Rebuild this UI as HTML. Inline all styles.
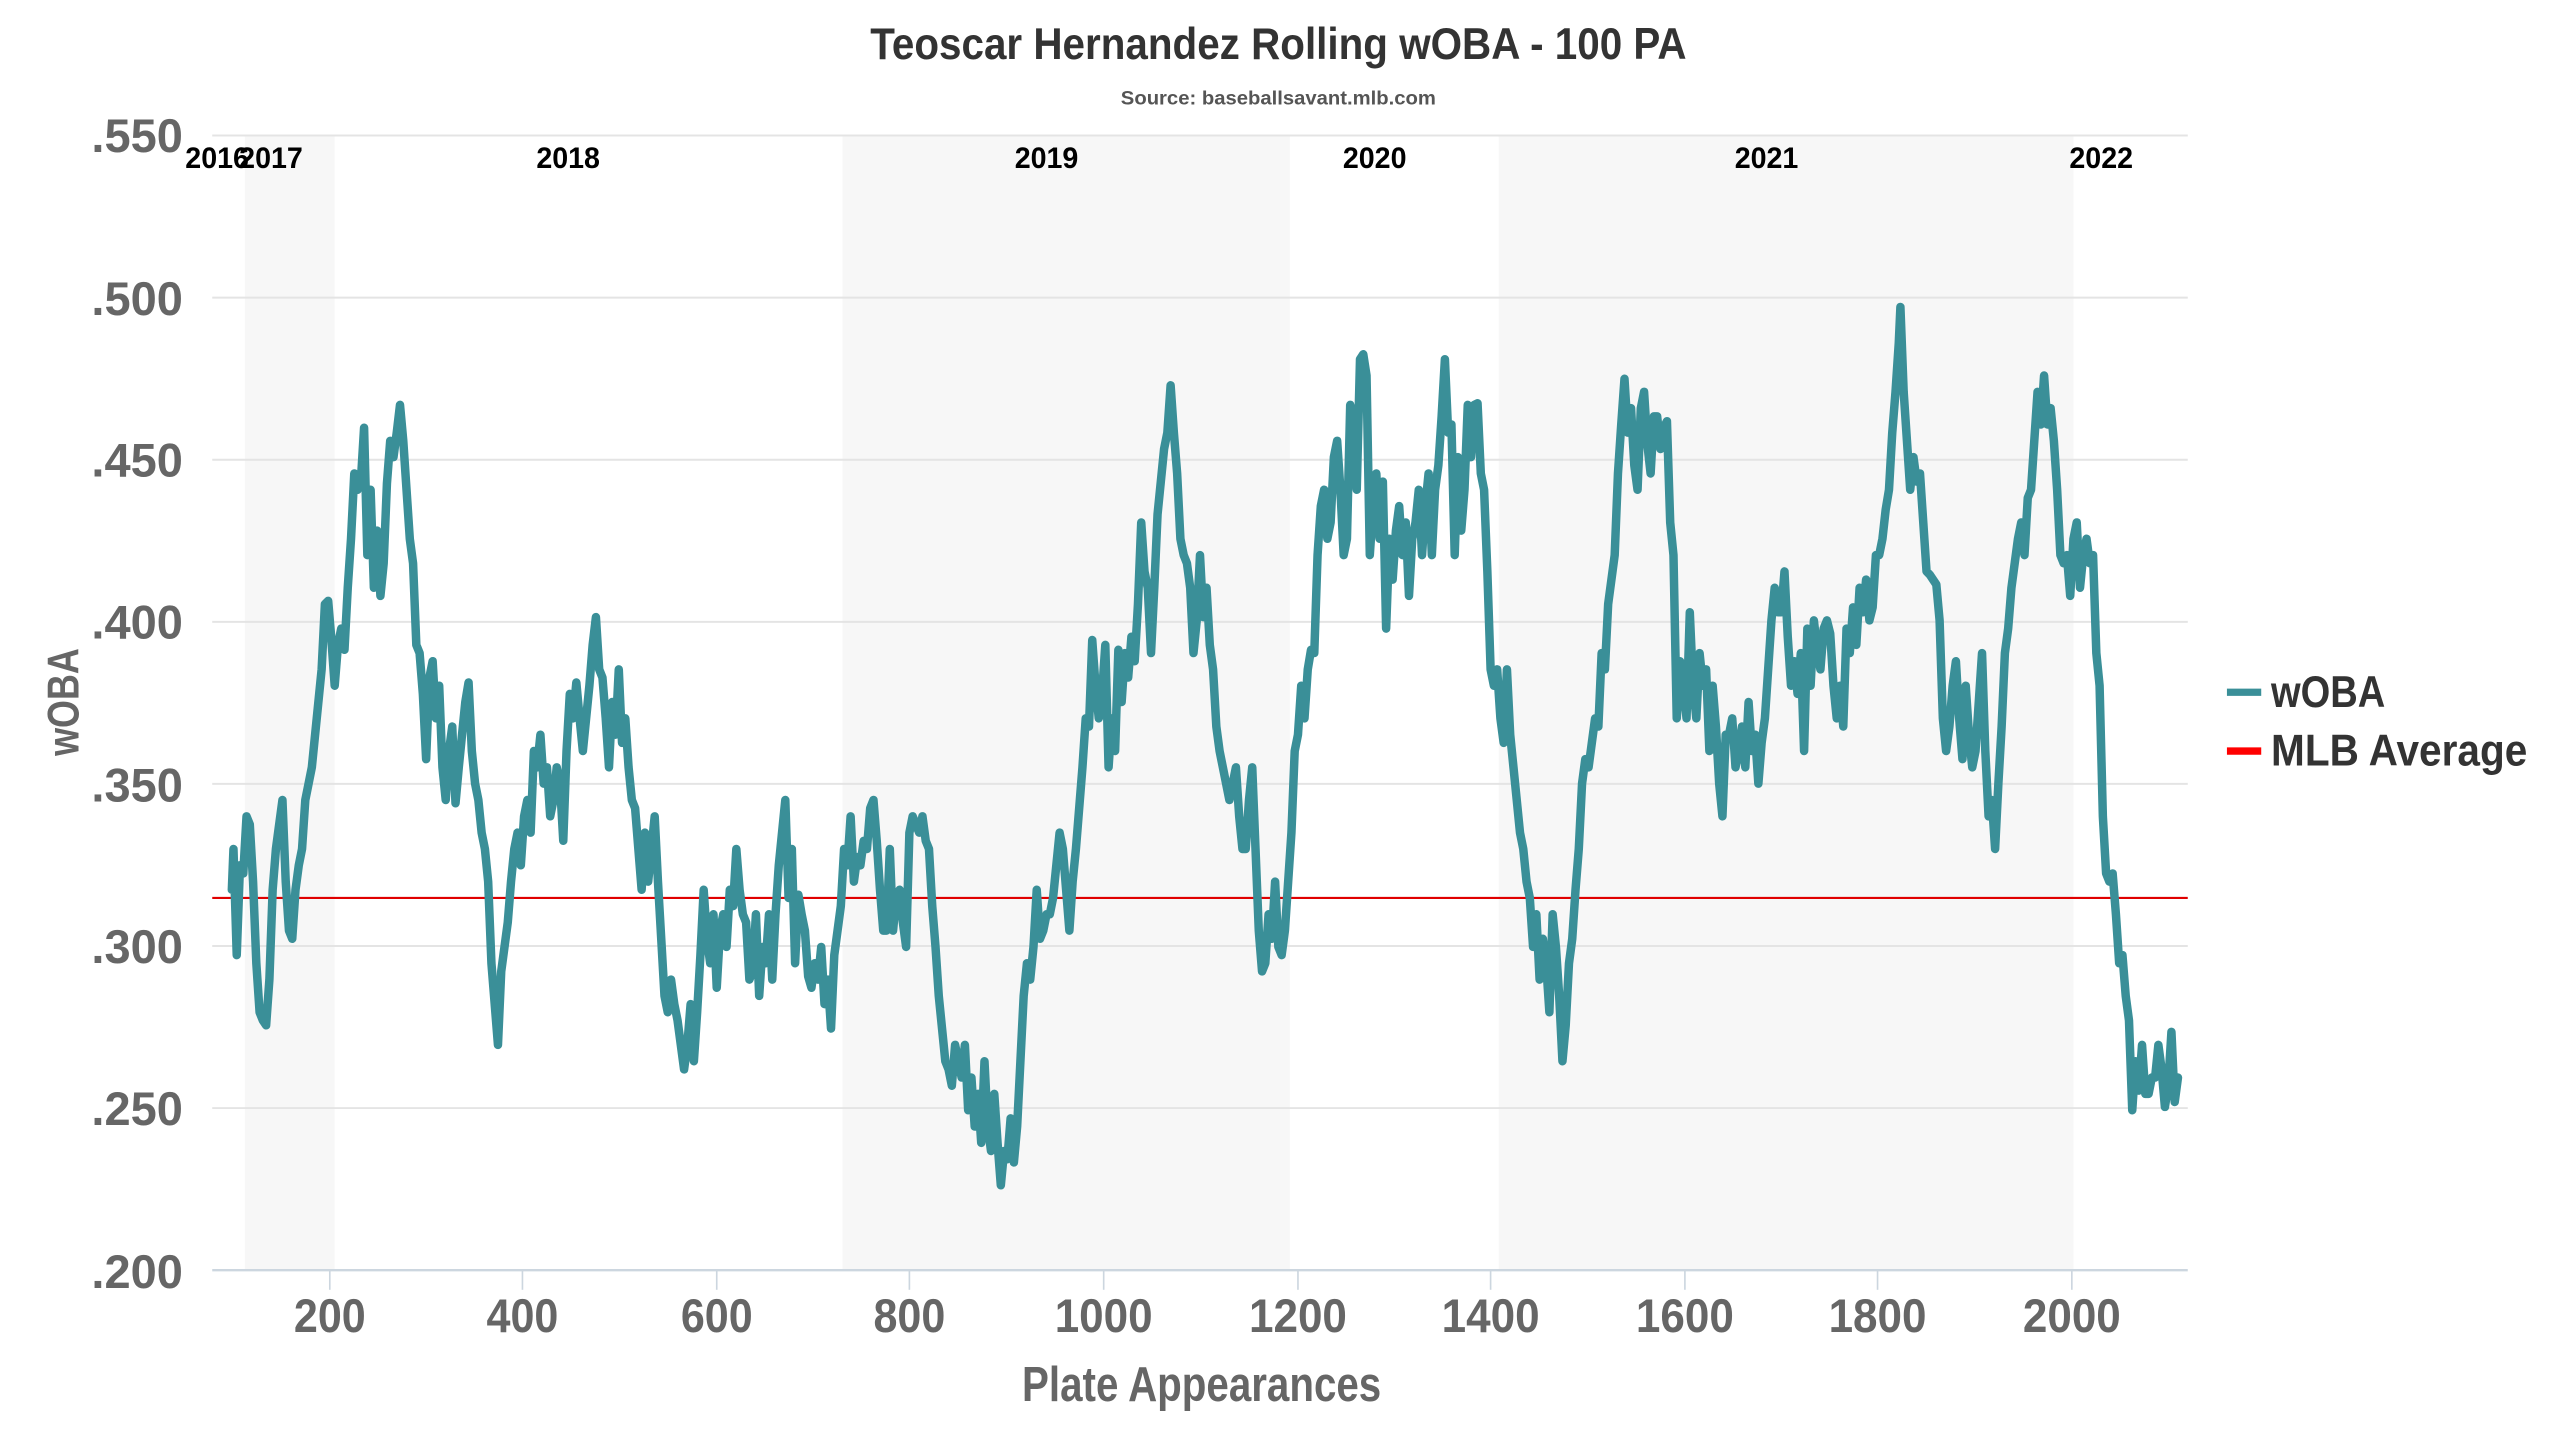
<!DOCTYPE html>
<html><head><meta charset="utf-8"><style>html,body{margin:0;padding:0;background:#fff;}svg{display:block}</style></head>
<body>
<svg width="2560" height="1440" viewBox="0 0 1568 882" xmlns="http://www.w3.org/2000/svg" font-family="'Liberation Sans', sans-serif" font-weight="bold">
<rect width="1568" height="882" fill="#fff"/>
<rect x="150" y="83" width="55" height="695" fill="#f7f7f7"/>
<rect x="516" y="83" width="274" height="695" fill="#f7f7f7"/>
<rect x="918" y="83" width="352" height="695" fill="#f7f7f7"/>
<g stroke="#e4e4e4" stroke-width="1.2">
<line x1="130" x2="1340" y1="83" y2="83"/><line x1="130" x2="1340" y1="182.3" y2="182.3"/>
<line x1="130" x2="1340" y1="281.6" y2="281.6"/><line x1="130" x2="1340" y1="380.9" y2="380.9"/>
<line x1="130" x2="1340" y1="480.1" y2="480.1"/><line x1="130" x2="1340" y1="579.4" y2="579.4"/>
<line x1="130" x2="1340" y1="678.7" y2="678.7"/>
</g>
<line x1="130" x2="1340" y1="778" y2="778" stroke="#ccd6df" stroke-width="1.5"/>
<g stroke="#ccd6df" stroke-width="1">
<line x1="202" x2="202" y1="778" y2="790"/><line x1="320" x2="320" y1="778" y2="790"/><line x1="439" x2="439" y1="778" y2="790"/><line x1="557" x2="557" y1="778" y2="790"/><line x1="676" x2="676" y1="778" y2="790"/><line x1="795" x2="795" y1="778" y2="790"/><line x1="913" x2="913" y1="778" y2="790"/><line x1="1032" x2="1032" y1="778" y2="790"/><line x1="1150" x2="1150" y1="778" y2="790"/><line x1="1269" x2="1269" y1="778" y2="790"/>
</g>
<line x1="130" x2="1340" y1="550" y2="550" stroke="#e00000" stroke-width="1.3"/>
<text x="783" y="36" text-anchor="middle" font-size="27" fill="#333" textLength="500" lengthAdjust="spacingAndGlyphs">Teoscar Hernandez Rolling wOBA - 100 PA</text>
<text x="783" y="64" text-anchor="middle" font-size="12" fill="#555" textLength="193" lengthAdjust="spacingAndGlyphs">Source: baseballsavant.mlb.com</text>
<g font-size="29" fill="#666" text-anchor="end">
<text x="112" y="93" textLength="56" lengthAdjust="spacingAndGlyphs">.550</text>
<text x="112" y="193" textLength="56" lengthAdjust="spacingAndGlyphs">.500</text>
<text x="112" y="292" textLength="56" lengthAdjust="spacingAndGlyphs">.450</text>
<text x="112" y="391" textLength="56" lengthAdjust="spacingAndGlyphs">.400</text>
<text x="112" y="491" textLength="56" lengthAdjust="spacingAndGlyphs">.350</text>
<text x="112" y="590" textLength="56" lengthAdjust="spacingAndGlyphs">.300</text>
<text x="112" y="689" textLength="56" lengthAdjust="spacingAndGlyphs">.250</text>
<text x="112" y="789" textLength="56" lengthAdjust="spacingAndGlyphs">.200</text>
</g>
<g font-size="29" fill="#666" text-anchor="middle">
<text x="202" y="816" textLength="44" lengthAdjust="spacingAndGlyphs">200</text>
<text x="320" y="816" textLength="44" lengthAdjust="spacingAndGlyphs">400</text>
<text x="439" y="816" textLength="44" lengthAdjust="spacingAndGlyphs">600</text>
<text x="557" y="816" textLength="44" lengthAdjust="spacingAndGlyphs">800</text>
<text x="676" y="816" textLength="60" lengthAdjust="spacingAndGlyphs">1000</text>
<text x="795" y="816" textLength="60" lengthAdjust="spacingAndGlyphs">1200</text>
<text x="913" y="816" textLength="60" lengthAdjust="spacingAndGlyphs">1400</text>
<text x="1032" y="816" textLength="60" lengthAdjust="spacingAndGlyphs">1600</text>
<text x="1150" y="816" textLength="60" lengthAdjust="spacingAndGlyphs">1800</text>
<text x="1269" y="816" textLength="60" lengthAdjust="spacingAndGlyphs">2000</text>
</g>
<text x="736" y="858" text-anchor="middle" font-size="30" fill="#666" textLength="220" lengthAdjust="spacingAndGlyphs">Plate Appearances</text>
<text transform="translate(48,430) rotate(-90)" text-anchor="middle" font-size="27" fill="#666" textLength="66" lengthAdjust="spacingAndGlyphs">wOBA</text>
<g font-size="18" fill="#000" text-anchor="middle">
<text x="133" y="103" textLength="39" lengthAdjust="spacingAndGlyphs">2016</text>
<text x="166" y="103" textLength="39" lengthAdjust="spacingAndGlyphs">2017</text>
<text x="348" y="103" textLength="39" lengthAdjust="spacingAndGlyphs">2018</text>
<text x="641" y="103" textLength="39" lengthAdjust="spacingAndGlyphs">2019</text>
<text x="842" y="103" textLength="39" lengthAdjust="spacingAndGlyphs">2020</text>
<text x="1082" y="103" textLength="39" lengthAdjust="spacingAndGlyphs">2021</text>
<text x="1287" y="103" textLength="39" lengthAdjust="spacingAndGlyphs">2022</text>
</g>
<polyline fill="none" stroke="#3a8f98" stroke-width="5.2" stroke-linejoin="round" stroke-linecap="round" points="142,545 143,520 145,585 147,530 149,535 151,500 153,505 155,540 157,590 159,620 161,625 163,628 165,600 167,545 169,520 171,505 173,490 175,540 177,570 179,575 181,545 183,530 185,520 187,490 189,480 191,470 193,450 195,430 197,410 199,370 201,368 203,392 205,420 207,395 209,385 211,398 213,360 215,330 217,290 219,300 221,295 223,262 225,340 227,300 229,360 231,325 233,365 235,345 237,296 239,270 241,280 243,265 245,248 247,270 249,300 251,330 253,345 255,395 257,400 259,425 261,465 263,415 265,405 267,440 269,420 271,470 273,490 275,460 277,445 279,492 281,470 283,450 285,430 287,418 289,460 291,480 293,490 295,510 297,520 299,540 301,590 303,615 305,640 307,595 309,580 311,565 313,540 315,520 317,510 319,530 321,500 323,490 325,510 327,460 329,470 331,450 333,480 335,470 337,500 339,490 341,470 343,480 345,515 347,460 349,425 351,440 353,418 355,440 357,460 359,440 361,420 363,395 365,378 367,410 369,415 371,440 373,470 375,430 377,450 379,410 381,455 383,440 385,470 387,490 389,495 391,520 393,545 395,510 397,540 399,520 401,500 403,540 405,575 407,610 409,620 411,600 413,615 415,625 417,640 419,655 421,640 423,615 425,650 427,620 429,585 431,545 433,575 435,590 437,560 439,605 441,570 443,560 445,580 447,545 449,555 451,520 453,545 455,560 457,565 459,600 461,595 463,560 465,610 467,580 469,590 471,560 473,600 475,560 477,530 479,510 481,490 483,550 485,520 487,590 489,548 491,560 493,570 495,598 497,605 499,590 501,600 503,580 505,615 507,600 509,630 511,585 513,570 515,555 517,520 519,530 521,500 523,540 525,525 527,530 529,515 531,520 533,495 535,490 537,515 539,545 541,570 543,570 545,520 547,570 549,548 551,545 553,565 555,580 557,510 559,500 561,505 563,510 565,500 567,515 569,520 571,555 573,580 575,610 577,630 579,650 581,655 583,665 585,640 587,650 589,660 591,640 593,680 595,660 597,690 599,670 601,700 603,650 605,690 607,705 609,670 611,700 613,726 615,705 617,710 619,685 621,712 623,690 625,650 627,610 629,590 631,600 633,580 635,545 637,575 639,570 641,560 643,560 645,550 647,530 649,510 651,520 653,545 655,570 657,540 659,520 661,495 663,470 665,440 667,445 669,392 671,420 673,440 675,425 677,395 679,470 681,440 683,460 685,398 687,430 689,400 691,415 693,390 695,405 697,370 699,320 701,350 703,360 705,400 707,360 709,315 711,295 713,275 715,265 717,236 719,265 721,290 723,330 725,340 727,345 729,360 731,400 733,380 735,340 737,378 739,360 741,395 743,410 745,445 747,460 749,470 751,480 753,490 755,480 757,470 759,500 761,520 763,520 765,490 767,470 769,520 771,570 773,595 775,590 777,560 779,575 781,540 783,580 785,585 787,570 789,540 791,510 793,460 795,450 797,420 799,440 801,410 803,398 805,400 807,340 809,310 811,300 813,330 815,320 817,280 819,270 821,300 823,340 825,330 827,248 829,255 831,300 833,220 835,217 837,230 839,340 841,310 843,290 845,330 847,295 849,385 851,330 853,355 855,325 857,310 859,340 861,320 863,365 865,330 867,320 869,300 871,340 873,310 875,290 877,340 879,300 881,285 883,255 885,220 887,265 889,260 891,340 893,280 895,325 897,300 899,248 901,280 903,248 905,247 907,290 909,300 911,350 913,410 915,420 917,410 919,440 921,455 923,410 925,450 927,470 929,490 931,510 933,520 935,540 937,550 939,580 941,560 943,600 945,575 947,590 949,620 951,560 953,580 955,610 957,650 959,628 961,590 963,575 965,545 967,520 969,480 971,465 973,470 975,455 977,440 979,445 981,400 983,410 985,370 987,355 989,340 991,290 993,260 995,232 997,265 999,250 1001,285 1003,300 1005,250 1007,240 1009,272 1011,290 1013,255 1015,255 1017,275 1019,262 1021,258 1023,320 1025,340 1027,440 1029,405 1031,420 1033,440 1035,375 1037,420 1039,440 1041,400 1043,420 1045,410 1047,460 1049,420 1051,445 1053,480 1055,500 1057,450 1059,450 1061,440 1063,470 1065,460 1067,445 1069,470 1071,430 1073,460 1075,450 1077,480 1079,455 1081,440 1083,410 1085,380 1087,360 1089,375 1091,375 1093,350 1095,390 1097,420 1099,405 1101,425 1103,400 1105,460 1107,385 1109,420 1111,380 1113,398 1115,410 1117,385 1119,380 1121,388 1123,420 1125,440 1127,420 1129,445 1131,385 1133,400 1135,372 1137,395 1139,360 1141,375 1143,355 1145,380 1147,372 1149,340 1151,340 1153,330 1155,312 1157,300 1159,265 1161,240 1163,210 1164,188 1166,240 1168,270 1170,300 1172,280 1174,295 1176,290 1178,320 1180,350 1182,352 1184,355 1186,358 1188,380 1190,440 1192,460 1194,445 1196,420 1198,405 1200,440 1202,465 1204,420 1206,450 1208,470 1210,460 1212,430 1214,400 1216,460 1218,500 1220,490 1222,520 1224,480 1226,445 1228,400 1230,385 1232,360 1234,345 1236,330 1238,320 1240,340 1242,305 1244,300 1246,270 1248,240 1250,260 1252,230 1254,260 1256,250 1258,270 1260,300 1262,340 1264,345 1266,340 1268,365 1270,330 1272,320 1274,360 1276,340 1278,330 1280,345 1282,340 1284,400 1286,420 1288,500 1290,535 1292,540 1294,535 1296,560 1298,590 1300,585 1302,610 1304,625 1306,680 1308,650 1310,668 1312,640 1314,670 1316,670 1318,660 1320,660 1322,640 1324,655 1326,678 1328,665 1330,632 1332,675 1334,660"/>
<line x1="1364" x2="1385" y1="424" y2="424" stroke="#3a8f98" stroke-width="4.5"/>
<line x1="1364" x2="1385" y1="460" y2="460" stroke="#ff0000" stroke-width="4.5"/>
<text x="1391" y="433" font-size="27" fill="#333" textLength="70" lengthAdjust="spacingAndGlyphs">wOBA</text>
<text x="1391" y="469" font-size="27" fill="#333" textLength="157" lengthAdjust="spacingAndGlyphs">MLB Average</text>
</svg>
</body></html>
